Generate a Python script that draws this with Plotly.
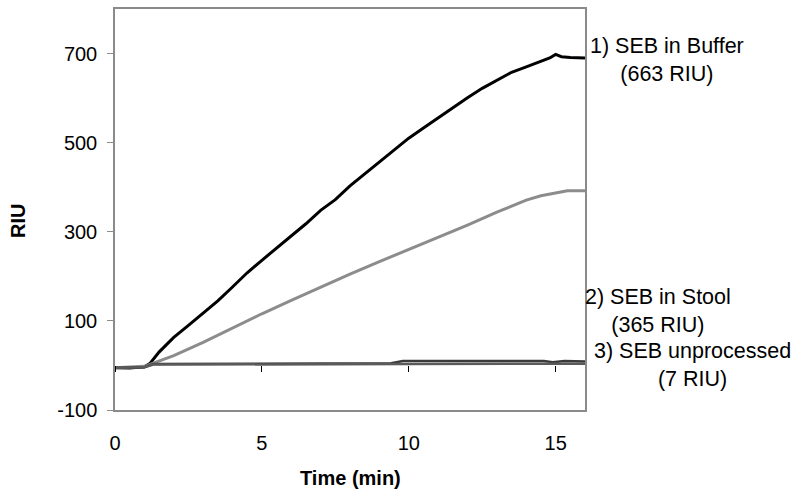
import plotly.graph_objects as go

# ---- data ----
t_buffer = [0, 0.5, 1.0, 1.2, 1.5, 2.0, 2.5, 3.0, 3.5, 4.0, 4.5, 5.0, 5.5, 6.0, 6.5, 7.0,
            7.5, 8.0, 8.5, 9.0, 9.5, 10.0, 10.5, 11.0, 11.5, 12.0, 12.5, 13.0, 13.5, 14.0,
            14.5, 14.8, 15.0, 15.2, 15.5, 16.0]
v_buffer = [-5, -6, -3, 5, 30, 63, 90, 117, 145, 176, 208, 236, 263, 292, 318, 348,
            372, 403, 430, 458, 485, 510, 533, 556, 578, 601, 622, 640, 658, 670,
            682, 690, 698, 693, 691, 690]

t_stool = [0, 0.5, 1.0, 1.1, 2.0, 3.0, 4.0, 5.0, 6.0, 7.0, 8.0, 9.0, 10.0, 11.0, 12.0,
           13.0, 14.0, 14.5, 15.0, 15.4, 16.0]
v_stool = [-5, -4, -2, 0, 22, 52, 84, 116, 146, 176, 205, 233, 260, 287, 315,
           344, 371, 381, 388, 392, 392]

t_unproc = [0, 0.5, 1.0, 1.3, 5.0, 9.4, 9.8, 14.6, 14.9, 15.3, 16.0]
v_unproc = [-5, -5, -4, 3, 4, 5, 10, 10, 7, 10, 9]

t_base = [0, 0.5, 1.0, 1.3, 5.0, 10.0, 16.0]
v_base = [-5, -5, -4, 2, 3, 3, 4]

x_ticks = [0, 5, 10, 15]
y_ticks = [-100, 100, 300, 500, 700]
y_ticklabels = ["-100", "100", "300", "500", "700"]

labels = ["1) SEB in Buffer<br>(663 RIU)",
          "2) SEB in Stool<br>(365 RIU)",
          "3) SEB unprocessed<br>(7 RIU)"]

FONT = "Liberation Sans, Arial, sans-serif"

fig = go.Figure()
fig.add_trace(go.Scatter(x=t_buffer, y=v_buffer, mode="lines",
                         line=dict(color="#000000", width=3)))
fig.add_trace(go.Scatter(x=t_stool, y=v_stool, mode="lines",
                         line=dict(color="#8c8c8c", width=3)))
fig.add_trace(go.Scatter(x=t_base, y=v_base, mode="lines", xaxis="x2",
                         line=dict(color="#5a5a5a", width=2.5)))
fig.add_trace(go.Scatter(x=t_unproc, y=v_unproc, mode="lines",
                         line=dict(color="#3a3a3a", width=2.5)))

fig.update_layout(
    width=800, height=498,
    margin=dict(l=115, r=215, t=7, b=88),
    paper_bgcolor="white", plot_bgcolor="white",
    showlegend=False,
    font=dict(family=FONT, color="black", size=20),
    xaxis=dict(range=[0, 16], tickvals=x_ticks, ticks="outside", ticklen=14,
               tickcolor="rgba(0,0,0,0)", showgrid=False, zeroline=False,
               showline=True, linecolor="#8a8a8a", linewidth=1.5, mirror=True,
               tickfont=dict(size=20, family=FONT)),
    xaxis2=dict(range=[0, 16], matches="x", overlaying="x", anchor="free",
                position=100 / 900, tickvals=x_ticks, ticks="outside", ticklen=6,
                tickcolor="#000000", tickwidth=1, showticklabels=False,
                showgrid=False, zeroline=False, showline=False),
    yaxis=dict(range=[-100, 800], tickvals=y_ticks, ticktext=y_ticklabels,
               ticks="outside", ticklen=6, tickcolor="#8a8a8a", showgrid=False,
               zeroline=False, showline=True, linecolor="#8a8a8a", linewidth=1.5,
               mirror=True, ticklabelstandoff=6, tickfont=dict(size=20, family=FONT)),
)

# axis titles
fig.add_annotation(text="<b>RIU</b>", x=(18 - 115) / 470, y=(410 - 220) / 403,
                   xref="paper", yref="paper", textangle=-90, showarrow=False,
                   font=dict(size=20, family=FONT), xanchor="center", yanchor="middle")
fig.add_annotation(text="<b>Time (min)</b>", x=0.5, y=(410 - 478) / 403,
                   xref="paper", yref="paper", showarrow=False,
                   font=dict(size=20, family=FONT), xanchor="center", yanchor="middle")

# series labels
ann_pos = [((667 - 115) / 470, (410 - 58.5) / 403),
           ((658 - 115) / 470, (410 - 311) / 403),
           ((692 - 115) / 470, (410 - 365) / 403)]
for txt, (ax, ay) in zip(labels, ann_pos):
    fig.add_annotation(text=txt, x=ax, y=ay, xref="paper", yref="paper",
                       showarrow=False, align="center", xanchor="center",
                       yanchor="middle", font=dict(size=21.5, family=FONT))

fig.write_html("out.html", config={"displayModeBar": False},
               post_script="document.body.style.margin='0';document.body.style.overflow='hidden';")
